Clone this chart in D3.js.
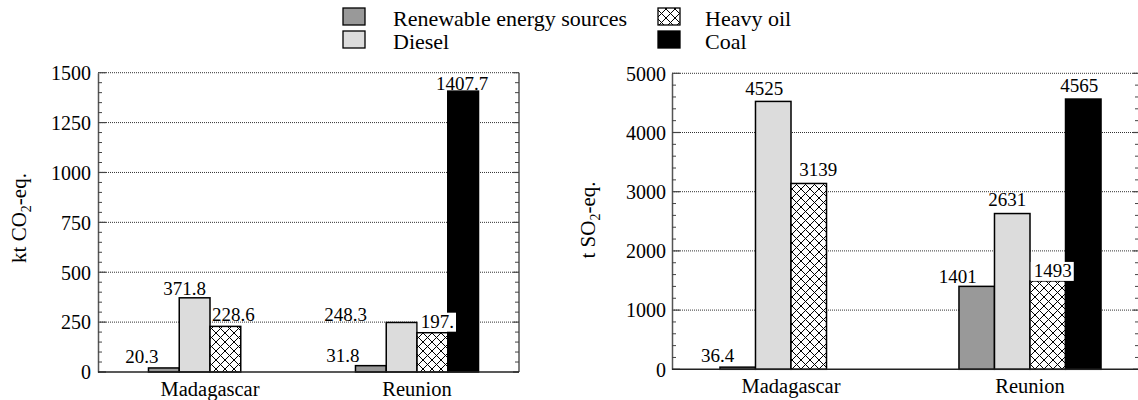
<!DOCTYPE html>
<html><head><meta charset="utf-8">
<script src="https://cdn.jsdelivr.net/npm/d3@7"></script>
<style>
body{margin:0;background:#fff}
svg{display:block}
svg text{font-family:'Liberation Serif','DejaVu Serif',serif !important;fill:#000}
</style>
</head><body>
<svg id="chart" width="1138" height="400" style="font-family:'Liberation Serif','DejaVu Serif',serif"></svg>
<script>
// ---------- data ----------
const categories = ["Madagascar", "Reunion"];
const sources = ["Renewable energy sources", "Diesel", "Heavy oil", "Coal"];
const co2Values = [[20.3, 371.8, 228.6, 0], [31.8, 248.3, 197, 1407.7]];
const co2Labels = [["20.3", "371.8", "228.6", ""], ["31.8", "248.3", "197.", "1407.7"]];
const so2Values = [[36.4, 4525, 3139, 0], [1401, 2631, 1493, 4565]];
const so2Labels = [["36.4", "4525", "3139", ""], ["1401", "2631", "1493", "4565"]];
const co2Ticks = [0, 250, 500, 750, 1000, 1250, 1500];
const so2Ticks = [0, 1000, 2000, 3000, 4000, 5000];

// ---------- layout / style ----------
const FONT = "'Liberation Serif','DejaVu Serif',serif";
const fills = ["#999999", "#dcdcdc", "url(#xhatch)", "#000000"];
const svg = d3.select("#chart");
const defs = svg.append("defs");
const pat = defs.append("pattern").attr("id", "xhatch").attr("patternUnits", "userSpaceOnUse")
  .attr("width", 9).attr("height", 9);
pat.append("rect").attr("width", 9).attr("height", 9).attr("fill", "#fff");
pat.append("path").attr("d", "M-1,-1 L10,10 M10,-1 L-1,10").attr("stroke", "#000").attr("stroke-width", 1);

// label nudges (dx from bar centre, gap above bar top) and boxed flags
const co2Nudge = [[[-22, 5], [-10, 3], [8, 5], [0, 0]], [[-28, 4], [-56, 1], [5, 5], [-1, 1]]];
const so2Nudge = [[[-20, 5], [-9, 6], [9.5, 7], [0, 0]], [[-19, 3], [-5, 8], [5, 4], [-4, 7]]];
const co2Boxed = [[false, false, false, false], [false, false, true, false]];
const so2Boxed = [[false, false, false, false], [false, false, true, false]];

function drawChart(cfg) {
  const g = svg.append("g").style("font-family", FONT);
  const y = d3.scaleLinear().domain([0, cfg.max]).range([cfg.y0, cfg.y1]);
  const x = d3.scaleBand().domain(categories).range(cfg.bandRange).padding(0);
  const bw = x.bandwidth() * 0.1486;
  const xi = d3.scaleBand().domain(sources).range([-2 * bw, 2 * bw]).padding(0);

  const minor = d3.range(0, cfg.max + 1e-9, cfg.minorStep).filter(v => !cfg.ticks.includes(v));
  // grid
  g.selectAll(".grid").data(cfg.ticks.filter(v => v > 0)).join("line")
    .attr("x1", cfg.left).attr("x2", cfg.right)
    .attr("y1", d => y(d)).attr("y2", d => y(d))
    .attr("stroke", "#333").attr("stroke-width", 1).attr("stroke-dasharray", "1,1");

  // left axis
  const la = g.append("g").attr("transform", `translate(${cfg.left},0)`)
    .call(d3.axisLeft(y).tickValues(cfg.ticks).tickSize(0).tickPadding(cfg.tickPad).tickFormat(d3.format("d")));
  la.attr("font-family", null).attr("font-size", null);
  la.select(".domain").attr("stroke", "#555").attr("stroke-width", 1.5);
  la.selectAll("text").style("font-family", FONT).attr("font-size", 20).attr("fill", "#000").attr("dy", "0.34em");
  g.selectAll(".lmaj").data(cfg.ticks).join("line")
    .attr("x1", cfg.left).attr("x2", cfg.left + 8).attr("y1", d => y(d)).attr("y2", d => y(d))
    .attr("stroke", "#444").attr("stroke-width", 1.2);
  g.selectAll(".lmin").data(minor).join("line")
    .attr("x1", cfg.left).attr("x2", cfg.left + 4).attr("y1", d => y(d)).attr("y2", d => y(d))
    .attr("stroke", "#444").attr("stroke-width", 1);

  // right axis
  g.append("line").attr("x1", cfg.rightAxis).attr("x2", cfg.rightAxis).attr("y1", y(0)).attr("y2", y(cfg.max))
    .attr("stroke", "#555").attr("stroke-width", 1.5);
  g.selectAll(".rmaj").data(cfg.ticks).join("line")
    .attr("x1", cfg.rightAxis - 6).attr("x2", cfg.rightAxis).attr("y1", d => y(d)).attr("y2", d => y(d))
    .attr("stroke", "#444").attr("stroke-width", 1.2);
  g.selectAll(".rmin").data(minor).join("line")
    .attr("x1", cfg.rightAxis - 4).attr("x2", cfg.rightAxis).attr("y1", d => y(d)).attr("y2", d => y(d))
    .attr("stroke", "#444").attr("stroke-width", 1);

  // bars
  const rows = [];
  categories.forEach((c, ci) => sources.forEach((s, si) => rows.push({
    c, s, ci, si, v: cfg.values[ci][si], lab: cfg.labels[ci][si], nd: cfg.nudge[ci][si], box: cfg.boxed[ci][si]
  })));
  g.selectAll(".bar").data(rows.filter(d => d.v > 0)).join("rect")
    .attr("x", d => x(d.c) + x.bandwidth() / 2 + xi(d.s))
    .attr("width", xi.bandwidth())
    .attr("y", d => y(d.v)).attr("height", d => y(0) - y(d.v))
    .attr("fill", d => fills[d.si]).attr("stroke", "#000").attr("stroke-width", 1.5);

  // bottom axis
  const ba = g.append("g").attr("transform", `translate(0,${y(0)})`)
    .call(d3.axisBottom(x).tickSize(0).tickPadding(cfg.catPad));
  ba.attr("font-family", null).attr("font-size", null);
  ba.select(".domain").attr("d", `M${cfg.left},0H${cfg.rightAxis}`).attr("stroke", "#222").attr("stroke-width", 1.5);
  ba.selectAll("text").style("font-family", FONT).attr("font-size", 20.5).attr("fill", "#000");

  // value labels
  rows.filter(d => d.lab !== "").forEach(d => {
    const cx = x(d.c) + x.bandwidth() / 2 + xi(d.s) + xi.bandwidth() / 2 + d.nd[0];
    const by = y(d.v) - d.nd[1];
    const t = g.append("text").attr("x", cx).attr("y", by).attr("text-anchor", "middle")
      .style("font-family", FONT).attr("font-size", 19).text(d.lab);
    if (d.box) {
      const bb = t.node().getBBox();
      g.insert("rect", () => t.node()).attr("x", bb.x - 3).attr("y", bb.y + 2)
        .attr("width", bb.width + 5).attr("height", bb.height - 2).attr("fill", "#fff");
    }
  });

  // y title
  const tt = g.append("text").attr("transform", `translate(${cfg.titleX},${cfg.titleY}) rotate(-90)`)
    .attr("text-anchor", "middle").style("font-family", FONT).attr("font-size", 21);
  tt.append("tspan").text(cfg.title[0]);
  tt.append("tspan").attr("font-size", 14).attr("dy", 5).text("2");
  tt.append("tspan").attr("dy", -5).text(cfg.title[1]);
}

drawChart({
  values: co2Values, labels: co2Labels, nudge: co2Nudge, boxed: co2Boxed, ticks: co2Ticks,
  max: 1500, minorStep: 50, y0: 372, y1: 72.7, left: 98, right: 519, rightAxis: 519,
  bandRange: [106.5, 520.5], tickPad: 7, catPad: 9, titleX: 26, titleY: 218, title: ["kt CO", "-eq."]
});
drawChart({
  values: so2Values, labels: so2Labels, nudge: so2Nudge, boxed: so2Boxed, ticks: so2Ticks,
  max: 5000, minorStep: 200, y0: 369.3, y1: 73.3, left: 672, right: 1139, rightAxis: 1139,
  bandRange: [671.5, 1149.5], tickPad: 6, catPad: 9, titleX: 595, titleY: 220, title: ["t SO", "-eq."]
});

// legend
const legend = svg.append("g").style("font-family", FONT);
const legPos = [[343, 8], [343, 31], [658, 8], [658, 31]];
sources.forEach((s, si) => {
  const [lx, ly] = legPos[si];
  legend.append("rect").attr("x", lx).attr("y", ly).attr("width", 22).attr("height", 17)
    .attr("fill", fills[si]).attr("stroke", "#000").attr("stroke-width", 1.3);
  legend.append("text").attr("x", lx + (si < 2 ? 50 : 47)).attr("y", ly + 18)
    .style("font-family", FONT).attr("font-size", 22).text(s);
});
</script>
</body></html>
